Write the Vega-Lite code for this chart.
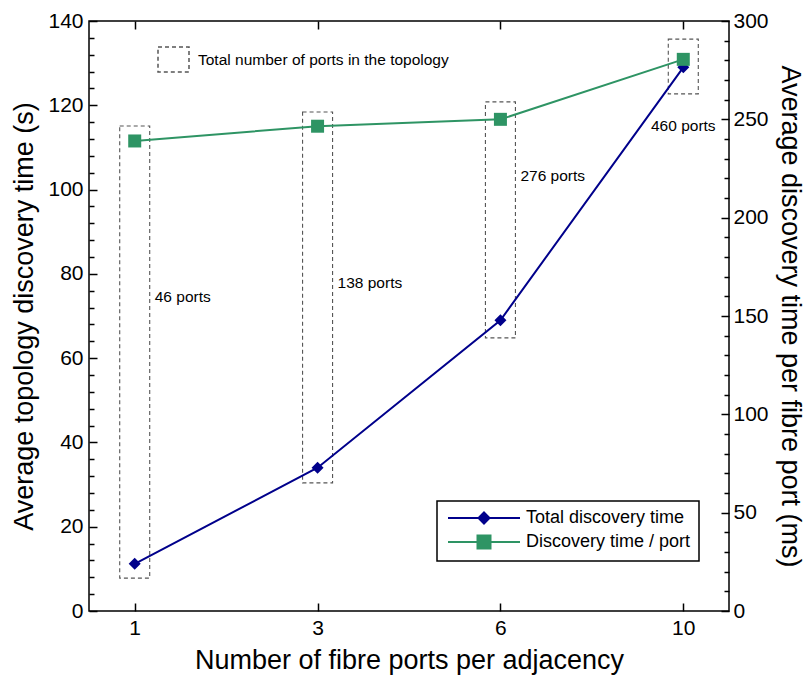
{
  "$schema": "https://vega.github.io/schema/vega-lite/v6.json",
  "width": 640,
  "height": 590,
  "autosize": {"type": "none"},
  "padding": {"left": 89, "top": 21, "right": 76, "bottom": 66},
  "background": "white",
  "config": {
    "font": "Liberation Sans",
    "view": {"stroke": "black", "strokeWidth": 1.5},
    "axis": {
      "grid": false,
      "domain": false,
      "tickColor": "black",
      "tickWidth": 1.5,
      "labelColor": "black",
      "titleColor": "black",
      "titleFontWeight": "normal",
      "labelFontSize": 21,
      "titleFontSize": 27,
      "labelOverlap": false,
      "labelBound": false
    },
    "legend": {"labelColor": "black", "labelFont": "Liberation Sans", "labelLimit": 400}
  },
  "data": {
    "values": [
      {"adj": "1", "total_s": 11.2, "per_port_ms": 239, "box_low": 7.8, "box_high": 115.1, "ports": "46 ports", "label_y": 74.5},
      {"adj": "3", "total_s": 34, "per_port_ms": 246.5, "box_low": 30.4, "box_high": 118.4, "ports": "138 ports", "label_y": 77.8},
      {"adj": "6", "total_s": 69, "per_port_ms": 250, "box_low": 64.8, "box_high": 120.8, "ports": "276 ports", "label_y": 103.2},
      {"adj": "10", "total_s": 129, "per_port_ms": 280.5, "box_low": 122.7, "box_high": 135.7, "ports": "460 ports", "label_y": 115.1}
    ]
  },
  "layer": [
    {
      "mark": {"type": "bar", "width": 30, "filled": false, "stroke": "#555", "strokeWidth": 1.1},
      "encoding": {
        "x": {"field": "adj", "type": "ordinal", "sort": null, "scale": {"type": "point", "padding": 0.25},
          "axis": {"orient": "bottom", "title": "Number of fibre ports per adjacency", "labelAngle": 0, "tickSize": -8, "labelPadding": 14, "titlePadding": 9}},
        "y": {"field": "box_low", "type": "quantitative", "scale": {"domain": [0, 140], "nice": false},
          "axis": {
            "orient": "left",
            "title": "Average topology discovery time (s)",
            "values": [0,4,8,12,16,20,24,28,32,36,40,44,48,52,56,60,64,68,72,76,80,84,88,92,96,100,104,108,112,116,120,124,128,132,136,140],
            "labelExpr": "datum.value % 20 === 0 ? datum.label : ''",
            "tickSize": {"condition": {"test": "datum.value % 20 === 0", "value": -8}, "value": -5},
            "labelPadding": 14,
            "titlePadding": 9
          }},
        "y2": {"field": "box_high"},
        "strokeDash": {"datum": "Total number of ports in the topology", "type": "nominal",
          "scale": {"range": [[4, 3]]},
          "legend": {
            "orient": "none", "legendX": 68, "legendY": 22, "title": null, "padding": 0,
            "symbolSize": 961, "symbolType": "M-1,-0.8H1V0.8H-1Z", "labelOffset": 8, "labelFontSize": 15.5,
            "encode": {"symbols": {"update": {"fill": {"value": "transparent"}, "stroke": {"value": "#555"}, "strokeWidth": {"value": 1.1}, "strokeDash": {"value": [4, 3]}}}}
          }}
      }
    },
    {
      "transform": [{"filter": "datum.adj !== '10'"}],
      "mark": {"type": "text", "align": "left", "baseline": "middle", "dx": 20, "fontSize": 15.5, "color": "black"},
      "encoding": {
        "x": {"field": "adj", "type": "ordinal", "sort": null, "axis": null},
        "y": {"field": "label_y", "type": "quantitative", "scale": {"domain": [0, 140], "nice": false}, "axis": null},
        "text": {"field": "ports"}
      }
    },
    {
      "transform": [{"filter": "datum.adj === '10'"}],
      "mark": {"type": "text", "align": "center", "baseline": "middle", "fontSize": 15.5, "color": "black"},
      "encoding": {
        "x": {"field": "adj", "type": "ordinal", "sort": null, "axis": null},
        "y": {"field": "label_y", "type": "quantitative", "scale": {"domain": [0, 140], "nice": false}, "axis": null},
        "text": {"field": "ports"}
      }
    },
    {
      "mark": {"type": "line", "strokeWidth": 2, "point": {"shape": "diamond", "size": 144, "filled": true}},
      "encoding": {
        "x": {"field": "adj", "type": "ordinal", "sort": null, "axis": null},
        "y": {"field": "total_s", "type": "quantitative", "scale": {"domain": [0, 140], "nice": false}, "axis": null},
        "color": {"datum": "Total discovery time", "type": "nominal",
          "scale": {"domain": ["Total discovery time", "Discovery time / port"], "range": ["#00008b", "#2e9464"]},
          "legend": {
            "orient": "none", "legendX": 348, "legendY": 480, "title": null,
            "padding": 8, "strokeColor": "black", "fillColor": "white",
            "labelFontSize": 18, "symbolSize": 100, "labelOffset": 63, "rowPadding": 3,
            "encode": {
              "legend": {"update": {"strokeWidth": {"value": 1.5}}},
              "symbols": {"update": {
                "shape": {"signal": "datum.value === 'Total discovery time' ? 'M-1.2,0H13.2M6,-1.1L7.1,0L6,1.1L4.9,0Z' : 'M-1.2,0H13.2M4.7,-1.3H7.3V1.3H4.7Z'"},
                "fill": {"scale": "color", "field": "value"},
                "stroke": {"scale": "color", "field": "value"},
                "strokeWidth": {"value": 2},
                "opacity": {"value": 1}
              }}
            }
          }}
      }
    },
    {
      "mark": {"type": "line", "strokeWidth": 2, "point": {"shape": "square", "size": 169, "filled": true}},
      "encoding": {
        "x": {"field": "adj", "type": "ordinal", "sort": null,
          "axis": {"orient": "top", "labels": false, "title": null, "tickSize": -8}},
        "y": {"field": "per_port_ms", "type": "quantitative", "scale": {"domain": [0, 300], "nice": false},
          "axis": {
            "orient": "right",
            "title": "Average discovery time per fibre port (ms)",
            "values": [0,10,20,30,40,50,60,70,80,90,100,110,120,130,140,150,160,170,180,190,200,210,220,230,240,250,260,270,280,290,300],
            "labelExpr": "datum.value % 50 === 0 ? datum.label : ''",
            "tickSize": {"condition": {"test": "datum.value % 50 === 0", "value": -8}, "value": -5},
            "labelPadding": 12,
            "titlePadding": 7
          }},
        "color": {"datum": "Discovery time / port", "type": "nominal"}
      }
    }
  ],
  "resolve": {"scale": {"y": "independent"}, "axis": {"x": "independent", "y": "independent"}}
}
